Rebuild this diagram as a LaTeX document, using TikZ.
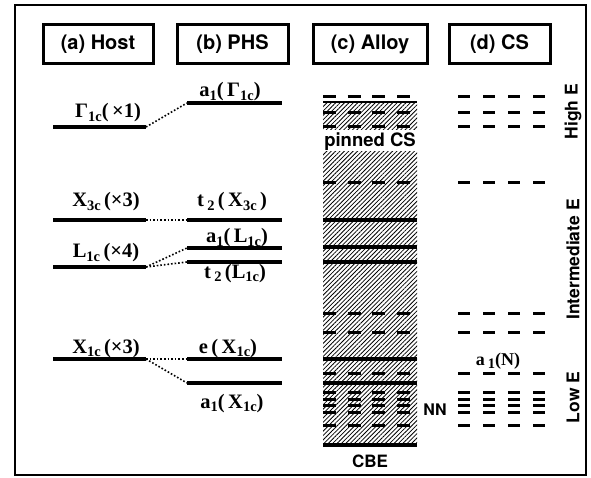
\documentclass[tikz,border=0pt]{standalone}
\usepackage{fontspec}
\setmainfont{Liberation Serif}
\newfontfamily\hv{TeX Gyre Heros}
\usetikzlibrary{patterns.meta}
\newcommand\sbs[1]{\raisebox{-0.4ex}{\fontsize{14.5}{14.5}\selectfont #1}}
\begin{document}
\begin{tikzpicture}[x=1pt,y=-1pt,
  hdr/.style={draw,line width=3pt,minimum height=39pt,inner sep=0,
    font=\hv\bfseries\fontsize{20}{20}\selectfont},
  lvl/.style={line width=3.8pt},
  dl/.style={line width=3pt,dash pattern=on 12pt off 13pt},
  da/.style={line width=3pt,dash pattern=on 13pt off 11.7pt},
  con/.style={line width=1.6pt,dash pattern=on 1.6pt off 2pt},
  lab/.style={font=\bfseries\fontsize{20.5}{20.5}\selectfont,inner sep=0,anchor=base},
  side/.style={font=\hv\bfseries\fontsize{17.5}{17.5}\selectfont,rotate=90,inner sep=0},
  sans/.style={font=\hv\bfseries\fontsize{#1}{#1}\selectfont,inner sep=0},
  hatch/.style={pattern={Lines[angle=45,distance=3.1pt,line width=0.8pt]}}
]
\useasboundingbox (0,0) rectangle (591,478);
\draw[line width=2pt] (15,5) rectangle (586,475);
% headers
\node[hdr,minimum width=110pt] (ha) at (98,44) {(a) Host};
\node[hdr,minimum width=111pt] (hb) at (232.5,44) {(b) PHS};
\node[hdr,minimum width=114pt] (hc) at (370,44) {(c) Alloy};
\node[hdr,minimum width=101pt] (hd) at (499.5,44) {(d) CS};
% host levels
\foreach \n/\y in {G/127,XT/220,L/267,XO/359}{
  \coordinate (\n0) at (53,\y); \coordinate (\n1) at (146,\y);
  \draw[lvl] (\n0) -- (\n1);}
\node[lab] (lG) at (108,118) {Γ\sbs{1c}(\,×1)};
\node[lab] (lXT) at (106,207) {X\sbs{3c}\,(×3)};
\node[lab] (lL) at (106,258) {L\sbs{1c}\,(×4)};
\node[lab] (lXO) at (106,353) {X\sbs{1c}\,(×3)};
% PHS levels
\foreach \n/\y in {aG/103,tX/220,aL/248,tL/262,eX/359,aX/383}{
  \coordinate (\n0) at (187,\y); \coordinate (\n1) at (282,\y);
  \draw[lvl] (\n0) -- (\n1);}
\node[lab] (laG) at (230,97) {a\sbs{1}(\,Γ\sbs{1c})};
\node[lab] (ltX) at (232,207) {t\,\sbs{2}\,(\,X\sbs{3c}\,)};
\node[lab] (laL) at (237,243) {a\sbs{1}(\,L\sbs{1c})};
\node[lab] (ltL) at (235,278) {t\,\sbs{2}\,(L\sbs{1c})};
\node[lab] (leX) at (228,353) {e\,(\,X\sbs{1c})};
\node[lab] (laX) at (232,408) {a\sbs{1}(\,X\sbs{1c})};
% connectors
\draw[con] (G1) -- (aG0);
\draw[con] (XT1) -- (tX0);
\draw[con] (L1) -- (aL0);
\draw[con] (L1) -- (tL0);
\draw[con] (XO1) -- (eX0);
\draw[con] (XO1) -- (aX0);
% alloy
\fill[hatch] (323,102) rectangle (417,130);
\fill[hatch] (323,152) rectangle (417,445);
\draw[line width=2.8pt] (323,102) -- (417,102);
\foreach \y in {220,247,262,359,383,445}{\draw[lvl] (323,\y) -- (417,\y);}
\foreach \y in {97,113,127,183,313,332,373,392,399,405.5,412,425}{
  \draw[da] (323,\y) -- (410,\y);}
\node[sans=18.5] (pin) at (370,142) {pinned CS};
\node[sans=17] (cbe) at (370,461) {CBE};
% CS
\foreach \y in {97,113,127,183,313,332,373,392,399,405.5,412,425}{
  \draw[dl] (458,\y) -- (545,\y);}
\node[lab,font=\bfseries\fontsize{18}{18}\selectfont] (aN) at (498,365) {a\,\sbs{1}(N)};
\node[sans=16] (nn) at (435,410) {NN};
\node[side] (hiE) at (573,111.5) {High E};
\node[side] (inE) at (573,259.5) {Intermediate E};
\node[side] (loE) at (573,397.5) {Low E};
\end{tikzpicture}
\end{document}
